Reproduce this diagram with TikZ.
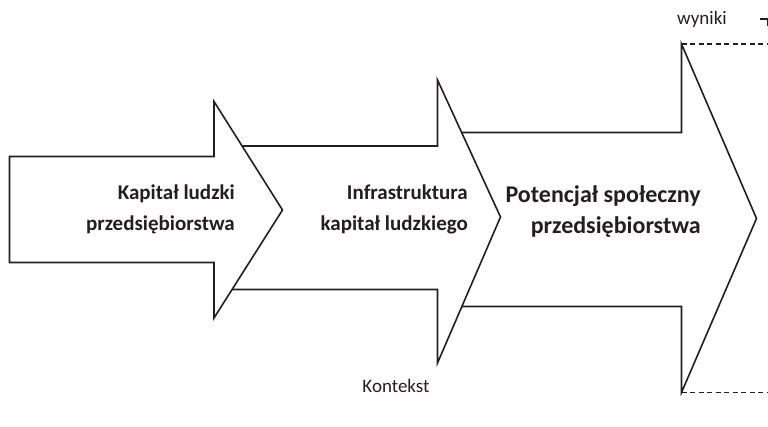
\documentclass[tikz,border=0pt]{standalone}
\usepackage{fontspec}
\setmainfont{Carlito}
\definecolor{ink}{HTML}{231F20}
\begin{document}
\begin{tikzpicture}[x=1pt,y=-1pt,
  stage/.style={draw=ink,line width=1.6pt,fill=white,line join=miter},
  label/.style={text=ink,font=\bfseries\fontsize{21}{31}\selectfont,align=right,anchor=east,inner sep=0pt},
  biglabel/.style={label,font=\bfseries\fontsize{24}{31}\selectfont},
  note/.style={text=ink,font=\fontsize{19}{21}\selectfont,inner sep=0pt},
  bound/.style={draw=ink,line width=1.1pt,dash pattern=on 5pt off 3.5pt}]
\useasboundingbox (0,0) rectangle (768,427);
% third stage (back)
\draw[stage] (437,132.5) -- (681.5,132.5) -- (681.5,44) -- (756.5,218.5)
  -- (681.5,392.5) -- (681.5,306.5) -- (437,306.5);
% second stage
\draw[stage] (214,146) -- (437.5,146) -- (437.5,80) -- (500.5,217)
  -- (437.5,363) -- (437.5,289.5) -- (214,289.5);
% first stage (front)
\draw[stage] (9.5,156.5) -- (214,156.5) -- (214,101.5) -- (282.5,210)
  -- (214,318) -- (214,262.5) -- (9.5,262.5) -- cycle;
% outcome bounds
\coordinate (ht) at (681.5,44);
\coordinate (hb) at (681.5,392.5);
\coordinate (rt) at (768,44);
\coordinate (rb) at (768,392.5);
\draw[bound] (ht) -- (rt);
\draw[bound] (hb) -- (rb);
\draw[ink,line width=1.1pt] (760,19) -- (767.5,19) -- (767.5,26);
% texts
\node[label] (k1) at (235,209) {Kapitał ludzki\\przedsiębiorstwa};
\node[label] (k2) at (468,209) {Infrastruktura\\kapitał ludzkiego};
\node[biglabel] (k3) at (701,212) {Potencjał społeczny\\przedsiębiorstwa};
\node[note] (wy) at (702,19) {wyniki};
\node[note] (ko) at (396,386) {Kontekst};
\end{tikzpicture}
\end{document}
